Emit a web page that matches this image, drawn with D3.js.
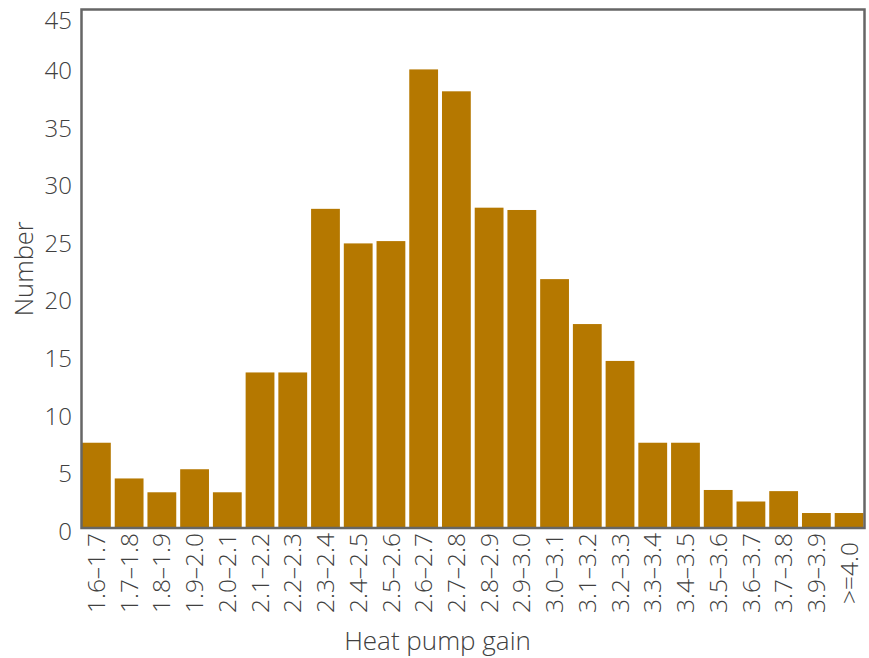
<!DOCTYPE html>
<html>
<head>
<meta charset="utf-8">
<script src="https://cdn.jsdelivr.net/npm/d3@7"></script>
<style>
  html, body { margin: 0; padding: 0; background: #fff; }
  svg { display: block; font-family: "Open Sans", "Noto Sans", sans-serif; }
</style>
</head>
<body>
<svg id="chart" width="869" height="658"></svg>
<script>
const categories = ["1.6–1.7","1.7–1.8","1.8–1.9","1.9–2.0","2.0–2.1","2.1–2.2","2.2–2.3","2.3–2.4","2.4–2.5","2.5–2.6","2.6–2.7","2.7–2.8","2.8–2.9","2.9–3.0","3.0–3.1","3.1–3.2","3.2–3.3","3.3–3.4","3.4–3.5","3.5–3.6","3.6–3.7","3.7–3.8","3.9–3.9",">=4.0"];
const values = [7.4, 4.3, 3.1, 5.1, 3.1, 13.5, 13.5, 27.7, 24.7, 24.9, 39.8, 37.9, 27.8, 27.6, 21.6, 17.7, 14.5, 7.4, 7.4, 3.3, 2.3, 3.2, 1.3, 1.3];
const yTicks = [0, 5, 10, 15, 20, 25, 30, 35, 40, 45];
const xTitle = "Heat pump gain";
const yTitle = "Number";

(function () {
const svg = d3.select("#chart");
const mLeft = 82, mRight = 863.5, mTop = 9.5, mBottom = 528;
const textColor = "#404040";

const x = d3.scaleBand().domain(categories).range([mLeft, mRight]).paddingInner(0.12).paddingOuter(0);
const y = d3.scaleLinear().domain([0, 45]).range([mBottom, mTop]);

svg.append("g").selectAll("rect").data(values).join("rect")
  .attr("x", (d, i) => x(categories[i]))
  .attr("width", x.bandwidth())
  .attr("y", d => y(d))
  .attr("height", d => y(0) - y(d))
  .attr("fill", "#b57800");

// frame
svg.append("rect")
  .attr("x", mLeft - 0.5).attr("y", mTop)
  .attr("width", mRight - mLeft + 1.5).attr("height", mBottom - mTop)
  .attr("fill", "none").attr("stroke", "#666").attr("stroke-width", 2.5);

// y axis labels
const yAxis = d3.axisLeft(y).tickValues(yTicks).tickSize(0).tickPadding(10);
const gy = svg.append("g").attr("transform", `translate(${mLeft},0)`).call(yAxis);
gy.select(".domain").remove();
gy.selectAll("text")
  .attr("font-size", 24).attr("fill", textColor)
  .attr("font-family", "'Open Sans', sans-serif").attr("font-weight", 300)
  .attr("dy", "0.35em")
  .attr("y", d => Math.max(y(d) + 3, 20) - y(d));

// x axis labels
const xAxis = d3.axisBottom(x).tickSize(0).tickPadding(0);
const gx = svg.append("g").attr("transform", `translate(0,${mBottom})`).call(xAxis);
gx.select(".domain").remove();
gx.selectAll("text")
  .attr("font-size", 24.5).attr("fill", textColor)
  .attr("font-family", "'Open Sans', sans-serif").attr("font-weight", 300)
  .attr("text-anchor", "middle")
  .attr("transform", "translate(0,45) rotate(-90)")
  .attr("x", 0).attr("y", 0).attr("dy", "0.35em");

// titles
svg.append("text")
  .attr("x", 437.5).attr("y", 650)
  .attr("text-anchor", "middle")
  .attr("font-size", 26).attr("fill", textColor).attr("font-weight", 300)
  .text(xTitle);

svg.append("text")
  .attr("transform", `translate(33,${(mTop + mBottom) / 2}) rotate(-90)`)
  .attr("text-anchor", "middle")
  .attr("font-size", 25.5).attr("fill", textColor).attr("font-weight", 300)
  .text(yTitle);
})();
</script>
</body>
</html>
